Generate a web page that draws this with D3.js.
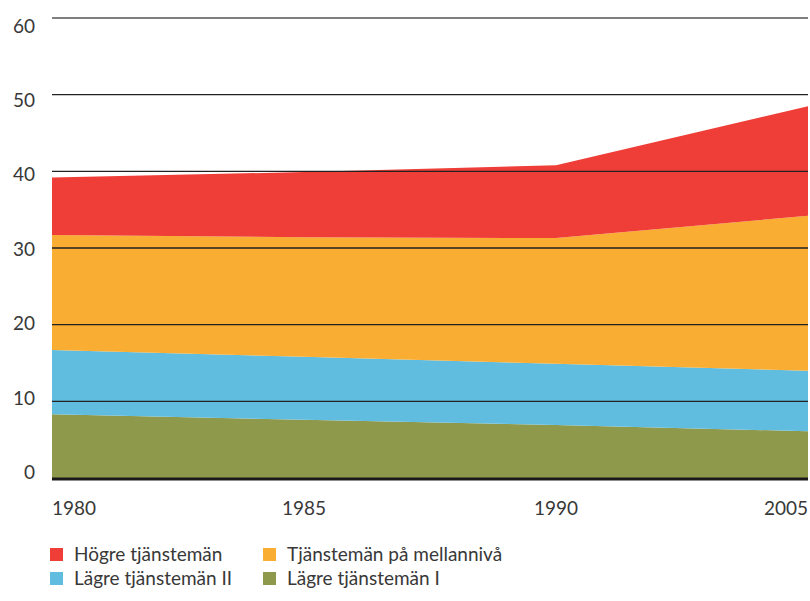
<!DOCTYPE html>
<html>
<head>
<meta charset="utf-8">
<script src="https://cdn.jsdelivr.net/npm/d3@7"></script>
<style>
  body { margin: 0; background: #fff; }
  text { font-family: Lato, "Open Sans", sans-serif; fill: #383838; }
</style>
</head>
<body>
<script>
// data, läst från bilden
const years = ["1980", "1985", "1990", "2005"]
const seriesNames = ["Lägre tjänstemän I", "Lägre tjänstemän II", "Tjänstemän på mellannivå", "Högre tjänstemän"]
const lagreI = [8.3, 7.6, 6.9, 6.1]
const lagreII = [8.4, 8.2, 8.0, 7.9]
const mellan = [15.0, 15.6, 16.4, 20.2]
const hogre = [7.5, 8.5, 9.5, 14.3]
const yTicks = [0, 10, 20, 30, 40, 50, 60]

const colors = {
    "Högre tjänstemän": "#ef3e37",
    "Tjänstemän på mellannivå": "#f9ad32",
    "Lägre tjänstemän II": "#60bde0",
    "Lägre tjänstemän I": "#8e994b"
}

const rows = years.map((yr, i) => ({
    year: yr,
    "Lägre tjänstemän I": lagreI[i],
    "Lägre tjänstemän II": lagreII[i],
    "Tjänstemän på mellannivå": mellan[i],
    "Högre tjänstemän": hogre[i]
}))

const W = 810, H = 601
const plot = { left: 52, right: 808, top: 18, bottom: 478 }

const svg = d3.select("body").append("svg")
    .attr("width", W)
    .attr("height", H)

const x = d3.scalePoint().domain(years).range([plot.left, plot.right])
const y = d3.scaleLinear().domain([0, 60]).range([plot.bottom, plot.top])
// etiketterna sitter lite förskjutna mot linjerna i originalet
const yLabel = d3.scaleLinear().domain([0, 60]).range([472.5, 26])

const stack = d3.stack().keys(seriesNames)
const layers = stack(rows)

const area = d3.area()
    .x(d => x(d.data.year))
    .y0(d => y(d[0]))
    .y1(d => y(d[1]))

svg.append("g")
    .selectAll("path")
    .data(layers)
    .join("path")
    .attr("d", area)
    .attr("fill", d => colors[d.key])

// rutnät
svg.append("g")
    .selectAll("line")
    .data(yTicks.filter(t => t > 0))
    .join("line")
    .attr("x1", plot.left)
    .attr("x2", plot.right)
    .attr("y1", d => y(d))
    .attr("y2", d => y(d))
    .attr("stroke", d => d == 60 ? "#555" : "#222")
    .attr("stroke-width", 1.3)

// baslinje
svg.append("line")
    .attr("x1", plot.left)
    .attr("x2", plot.right)
    .attr("y1", y(0) + 1)
    .attr("y2", y(0) + 1)
    .attr("stroke", "#1a1a1a")
    .attr("stroke-width", 3)

// y-etiketter
svg.append("g")
    .selectAll("text")
    .data(yTicks)
    .join("text")
    .attr("x", 35)
    .attr("y", d => yLabel(d))
    .attr("dy", "0.35em")
    .attr("text-anchor", "end")
    .style("font-size", "19px")
    .text(d => d)

// x-etiketter
svg.append("g")
    .selectAll("text")
    .data(years)
    .join("text")
    .attr("x", d => x(d))
    .attr("y", 515)
    .attr("text-anchor", (d, i) => i == 0 ? "start" : (i == years.length - 1 ? "end" : "middle"))
    .style("font-size", "19px")
    .text(d => d)

// legend
const legendItems = [
    { name: "Högre tjänstemän", col: 0, row: 0 },
    { name: "Tjänstemän på mellannivå", col: 1, row: 0 },
    { name: "Lägre tjänstemän II", col: 0, row: 1 },
    { name: "Lägre tjänstemän I", col: 1, row: 1 }
]

const lg = svg.append("g")
    .selectAll("g")
    .data(legendItems)
    .join("g")
    .attr("transform", d => "translate(" + (50 + d.col * 213) + "," + (548 + d.row * 24) + ")")

lg.append("rect")
    .attr("width", 13)
    .attr("height", 13)
    .attr("fill", d => colors[d.name])

lg.append("text")
    .attr("x", 24)
    .attr("y", 13)
    .style("font-size", "19px")
    .text(d => d.name)
</script>
</body>
</html>
